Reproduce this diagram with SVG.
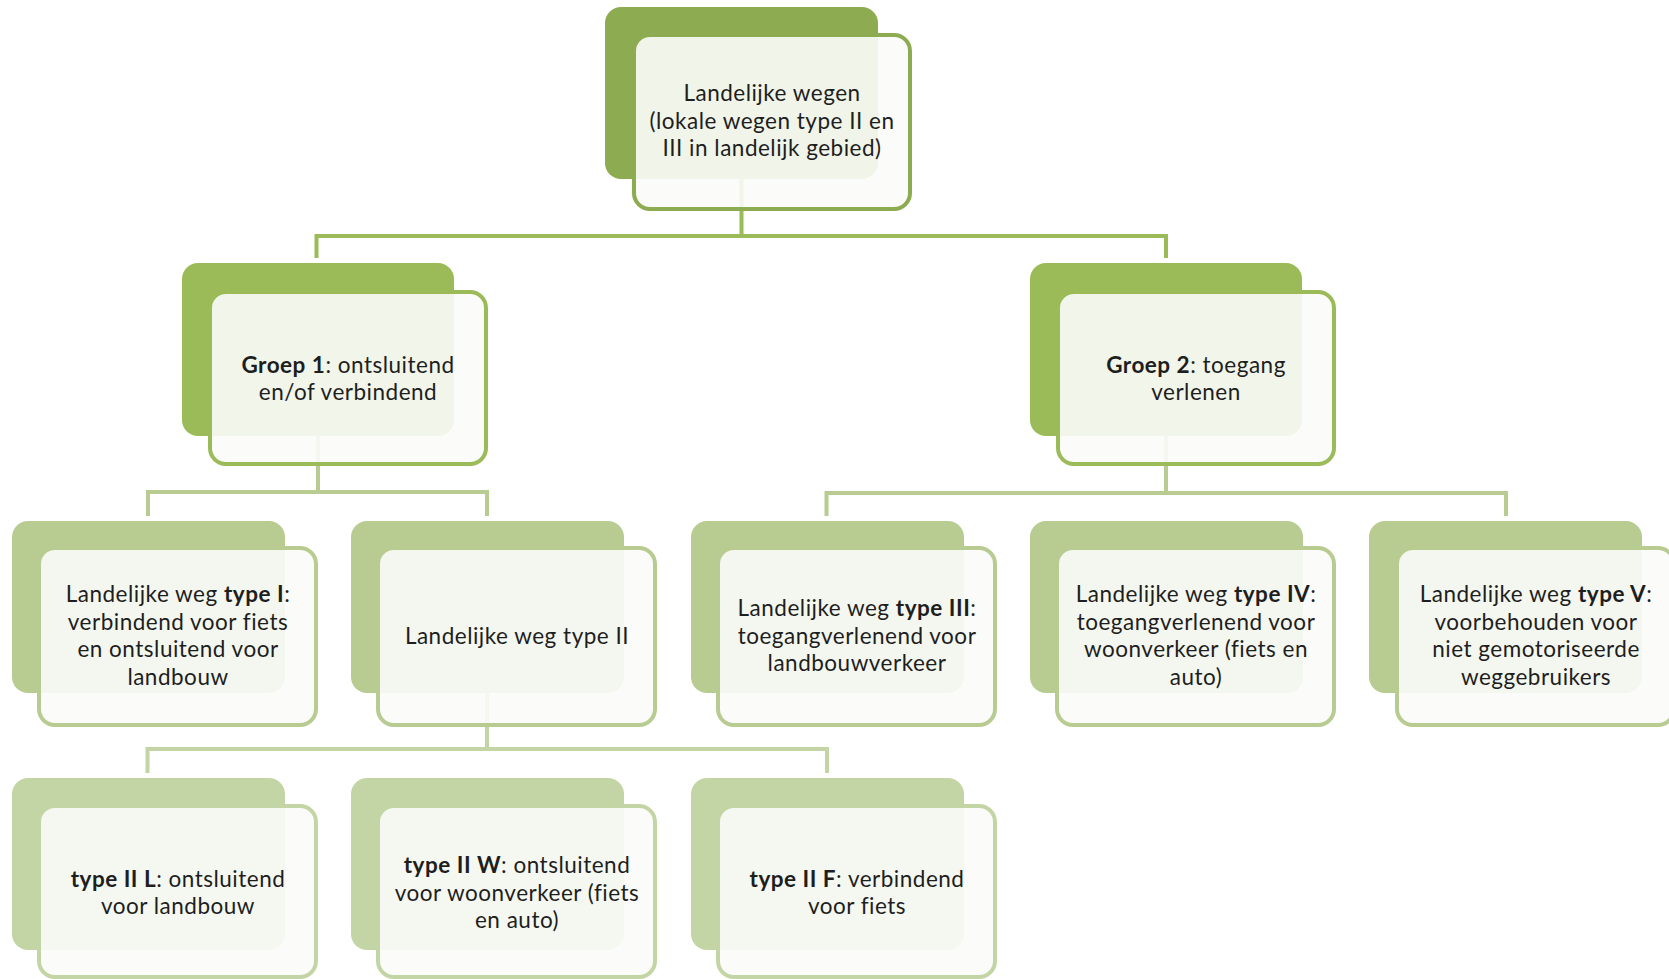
<svg xmlns="http://www.w3.org/2000/svg" width="1669" height="979" viewBox="0 0 1669 979">
<style>
text{font-family:Lato,"Liberation Sans",sans-serif;font-size:22.5px;letter-spacing:0.5px;font-variant-ligatures:none;fill:#1e1e1e;text-anchor:middle}
.b{font-weight:bold}
.front{fill:#fbfcfa;fill-opacity:0.9;stroke-width:4}
.c{fill:none;stroke-width:4}
.l0{fill:#8dab51}.s0{stroke:#8dab51}
.l1{fill:#9bbb59}.s1{stroke:#9bbb59}
.l2{fill:#b8cc92}.s2{stroke:#b8cc92}
.l3{fill:#c3d5a5}.s3{stroke:#c3d5a5}
</style>
<rect width="1669" height="979" fill="#ffffff"/>
<g id="connectors">
<path class="c s1" d="M741.5 179V236M316.5 258V236H1166V258"/>
<path class="c s2" d="M318 436V492M148 516V492H487V516"/>
<path class="c s2" d="M1166 436V493M826.5 516V493H1506V516"/>
<path class="c s3" d="M487 693V749M147.5 773V749H827V773"/>
</g>
<g id="n-top">
<rect class="l0" x="605" y="7" width="273" height="172" rx="16"/>
<rect class="front s0" x="634" y="35" width="276" height="174" rx="16"/>
<text><tspan x="772" y="101">Landelijke wegen</tspan><tspan x="772" y="128.5">(lokale wegen type II en</tspan><tspan x="772" y="156">III in landelijk gebied)</tspan></text>
</g>
<g id="n-groep1">
<rect class="l1" x="182" y="263" width="272" height="173" rx="16"/>
<rect class="front s1" x="210" y="292" width="276" height="172" rx="16"/>
<text><tspan x="348" y="372.6"><tspan class="b">Groep 1</tspan>: ontsluitend</tspan><tspan x="348" y="400.3">en/of verbindend</tspan></text>
</g>
<g id="n-groep2">
<rect class="l1" x="1030" y="263" width="272" height="173" rx="16"/>
<rect class="front s1" x="1058" y="292" width="276" height="172" rx="16"/>
<text><tspan x="1196" y="372.6"><tspan class="b">Groep 2</tspan>: toegang</tspan><tspan x="1196" y="400.3">verlenen</tspan></text>
</g>
<g id="n-type1">
<rect class="l2" x="12" y="521" width="273" height="172" rx="16"/>
<rect class="front s2" x="39" y="548" width="277" height="177" rx="16"/>
<text><tspan x="178" y="602"><tspan>Landelijke weg </tspan><tspan class="b">type I</tspan>:</tspan><tspan x="178" y="629.7">verbindend voor fiets</tspan><tspan x="178" y="657.4">en ontsluitend voor</tspan><tspan x="178" y="685">landbouw</tspan></text>
</g>
<g id="n-type2">
<rect class="l2" x="351" y="521" width="273" height="172" rx="16"/>
<rect class="front s2" x="378" y="548" width="277" height="177" rx="16"/>
<text><tspan x="517" y="643.5">Landelijke weg type II</tspan></text>
</g>
<g id="n-type3">
<rect class="l2" x="691" y="521" width="273" height="172" rx="16"/>
<rect class="front s2" x="718" y="548" width="277" height="177" rx="16"/>
<text><tspan x="857" y="615.8"><tspan>Landelijke weg </tspan><tspan class="b">type III</tspan>:</tspan><tspan x="857" y="643.5">toegangverlenend voor</tspan><tspan x="857" y="671.2">landbouwverkeer</tspan></text>
</g>
<g id="n-type4">
<rect class="l2" x="1030" y="521" width="273" height="172" rx="16"/>
<rect class="front s2" x="1057" y="548" width="277" height="177" rx="16"/>
<text><tspan x="1196" y="602"><tspan>Landelijke weg </tspan><tspan class="b">type IV</tspan>:</tspan><tspan x="1196" y="629.7">toegangverlenend voor</tspan><tspan x="1196" y="657.4">woonverkeer (fiets en</tspan><tspan x="1196" y="685">auto)</tspan></text>
</g>
<g id="n-type5">
<rect class="l2" x="1369" y="521" width="273" height="172" rx="16"/>
<rect class="front s2" x="1397" y="548" width="277" height="177" rx="16"/>
<text><tspan x="1536" y="602"><tspan>Landelijke weg </tspan><tspan class="b">type V</tspan>:</tspan><tspan x="1536" y="629.7">voorbehouden voor</tspan><tspan x="1536" y="657.4">niet gemotoriseerde</tspan><tspan x="1536" y="685">weggebruikers</tspan></text>
</g>
<g id="n-type2L">
<rect class="l3" x="12" y="778" width="273" height="172" rx="16"/>
<rect class="front s3" x="39" y="806" width="277" height="171" rx="16"/>
<text><tspan x="178" y="886.6"><tspan class="b">type II L</tspan>: ontsluitend</tspan><tspan x="178" y="914.3">voor landbouw</tspan></text>
</g>
<g id="n-type2W">
<rect class="l3" x="351" y="778" width="273" height="172" rx="16"/>
<rect class="front s3" x="378" y="806" width="277" height="171" rx="16"/>
<text><tspan x="517" y="872.8"><tspan class="b">type II W</tspan>: ontsluitend</tspan><tspan x="517" y="900.5">voor woonverkeer (fiets</tspan><tspan x="517" y="928.2">en auto)</tspan></text>
</g>
<g id="n-type2F">
<rect class="l3" x="691" y="778" width="273" height="172" rx="16"/>
<rect class="front s3" x="718" y="806" width="277" height="171" rx="16"/>
<text><tspan x="857" y="886.6"><tspan class="b">type II F</tspan>: verbindend</tspan><tspan x="857" y="914.3">voor fiets</tspan></text>
</g>
</svg>
